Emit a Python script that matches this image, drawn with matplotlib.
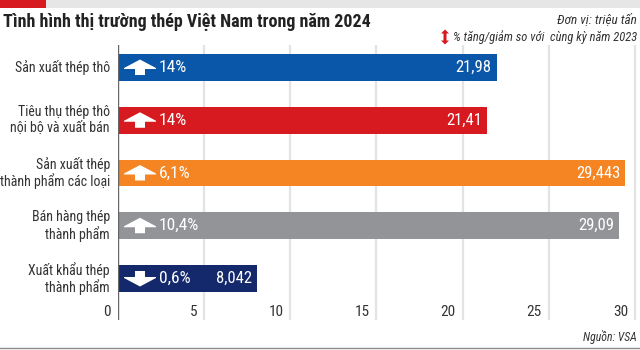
import matplotlib
matplotlib.use("Agg")
import matplotlib.pyplot as plt
import matplotlib.transforms as mtransforms
from matplotlib.patches import Rectangle, Polygon
from matplotlib import font_manager

# ---- data ----
categories = ["Sản xuất thép thô",
              "Tiêu thụ thép thô\nnội bộ và xuất bán",
              "Sản xuất thép\nthành phẩm các loại",
              "Bán hàng thép\nthành phẩm",
              "Xuất khẩu thép\nthành phẩm"]
values = [21.98, 21.41, 29.443, 29.09, 8.042]
changes = [14, 14, 6.1, 10.4, -0.6]
colors = ["#0a56a8", "#d71920", "#f58423", "#929497", "#13296b"]
xticks = [0, 5, 10, 15, 20, 25, 30]
title = "Tình hình thị trường thép Việt Nam trong năm 2024"
unit_text = "Đơn vị: triệu tấn"
legend_text_1 = "% tăng/giảm so với"
legend_text_2 = "cùng kỳ năm 2023"
source_text = "Nguồn: VSA"


def pick(names):
    for n in names:
        try:
            font_manager.findfont(n, fallback_to_default=False)
            return n
        except Exception:
            pass
    return "DejaVu Sans"


NARROW = pick(["Liberation Sans Narrow", "Roboto Condensed", "Roboto"])
plt.rcParams["font.family"] = [NARROW, "DejaVu Sans"]

W, H = 640, 350
fig = plt.figure(figsize=(W / 100, H / 100), dpi=100)
fig.patch.set_facecolor("white")

# top strip
fig.add_artist(Rectangle((0, 1 - 8 / H), 1, 8 / H, transform=fig.transFigure,
                         facecolor="#e6e6e6", edgecolor="none"))
fig.add_artist(Rectangle((0, 1 - 8 / H), 46 / W, 8 / H, transform=fig.transFigure,
                         facecolor="#d71920", edgecolor="none"))
# bottom line
fig.add_artist(plt.Line2D([0, 1], [1 - 348 / H] * 2, transform=fig.transFigure,
                          color="#8a8a8a", lw=1))

# axes
ax_left, ax_right, ax_top, ax_bot = 118, 640, 45, 320
ax = fig.add_axes([ax_left / W, 1 - ax_bot / H, (ax_right - ax_left) / W, (ax_bot - ax_top) / H])
ax.set_xlim(0, 30.3)
ax.set_ylim(4.787, -0.427)
for s in ax.spines.values():
    s.set_visible(False)
ax.set_xticks([])
ax.set_yticks([])
ax.patch.set_alpha(0)

# gridlines
for t in xticks[1:]:
    ax.axvline(t, color="#e3e3e3", lw=1.6, zorder=0)
ax.axvline(0, color="#666666", lw=1.0, zorder=3)

ypos = list(range(len(categories)))
ax.barh(ypos, values, height=0.51, color=colors, zorder=2)

# tick labels
tick_y = 4.64
for t in xticks:
    tr = ax.transData + mtransforms.ScaledTranslation(-5 / 72, 0, fig.dpi_scale_trans)
    ax.text(t, tick_y, str(t), transform=tr, ha="right", va="center",
            fontsize=11, color="#333333")

for i, (cat, v, ch) in enumerate(zip(categories, values, changes)):
    # category labels
    tr = ax.transData + mtransforms.ScaledTranslation(-8 / 100, 0, fig.dpi_scale_trans)
    ax.text(0, i, cat, transform=tr, ha="right", va="center", fontsize=10,
            color="#333333", linespacing=1.15)
    # value labels
    tr = ax.transData + mtransforms.ScaledTranslation(-5 / 100, 0, fig.dpi_scale_trans)
    ax.text(v, i, f"{v:g}".replace(".", ","), transform=tr, ha="right", va="center",
            fontsize=12, color="white", zorder=4)
    # percent labels
    tr = ax.transData + mtransforms.ScaledTranslation(41 / 100, 0, fig.dpi_scale_trans)
    ax.text(0, i, f"{abs(ch):g}%".replace(".", ","), transform=tr, ha="left", va="center",
            fontsize=12.5, color="white", zorder=4)
    # arrow icon (in inches offset from the bar start)
    if ch >= 0:
        verts = [(0.06, -0.005), (0.22, 0.08), (0.38, -0.005), (0.38, -0.015), (0.27, -0.015),
                 (0.27, -0.075), (0.17, -0.075), (0.17, -0.015), (0.06, -0.015)]
    else:
        verts = [(0.06, 0.005), (0.22, -0.08), (0.38, 0.005), (0.38, 0.015), (0.27, 0.015),
                 (0.27, 0.075), (0.17, 0.075), (0.17, 0.015), (0.06, 0.015)]
    tr = fig.dpi_scale_trans + mtransforms.ScaledTranslation(0, i, ax.transData)
    ax.add_patch(Polygon(verts, closed=True, transform=tr, facecolor="white",
                         edgecolor="none", zorder=4, clip_on=False))

# title & notes
fig.text(3 / W, 1 - 22 / H, title, ha="left", va="center", fontsize=13,
         fontweight="bold", color="#222222")
fig.text(637 / W, 1 - 20 / H, unit_text, ha="right", va="center", fontsize=9.5,
         style="italic", color="#333333")
fig.text(453 / W, 1 - 37 / H, legend_text_1, ha="left", va="center", fontsize=9,
         style="italic", color="#333333")
fig.text(637 / W, 1 - 37 / H, legend_text_2, ha="right", va="center", fontsize=9,
         style="italic", color="#333333")
# red up/down icon
iv = [(0, 3.5), (4, 7.5), (8, 3.5), (5.5, 3.5), (5.5, -3.5), (8, -3.5), (4, -7.5),
      (0, -3.5), (2.5, -3.5), (2.5, 3.5)]
cx, cy = 441, 37
fig.add_artist(Polygon([((cx + x) / W, 1 - (cy - y) / H) for x, y in iv],
                       closed=True, transform=fig.transFigure, facecolor="#d71920",
                       edgecolor="none"))
fig.text(637 / W, 1 - 337 / H, source_text, ha="right", va="center", fontsize=8.5,
         style="italic", color="#333333")

fig.savefig("out.png", dpi=100)
